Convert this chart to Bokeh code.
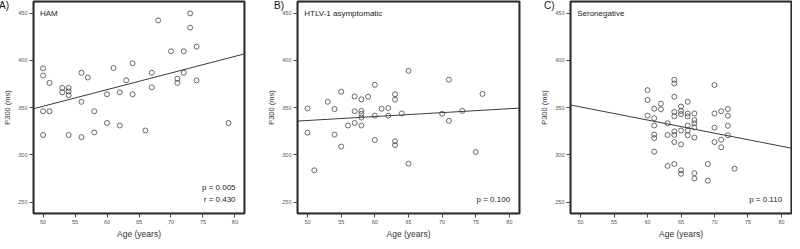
from bokeh.plotting import figure
from bokeh.layouts import row
from bokeh.models import FixedTicker, Range1d, BoxAnnotation, Div
from bokeh.core.properties import value
from bokeh.embed import file_html
from bokeh.resources import INLINE

FONT = "Liberation Sans"

x_ticks = [50, 55, 60, 65, 70, 75, 80]
y_ticks = [250, 300, 350, 400, 450]

# Panel A: HAM
ham_age = [50, 50, 50, 50, 51, 51, 53, 53, 54, 54, 54, 54, 56, 56, 56, 57, 58, 58,
           60, 60, 61, 62, 62, 63, 64, 64, 66, 67, 67, 68, 70, 71, 71, 72, 72, 73,
           73, 74, 74, 79]
ham_p300 = [391.6, 383.9, 346.2, 321.1, 376.2, 346.2, 370.9, 366.2, 370.9, 367.2,
            363.2, 321.1, 386.9, 356.2, 318.8, 381.9, 346.2, 323.8, 364.2, 333.8,
            391.9, 366.2, 331.1, 378.9, 396.9, 364.2, 325.8, 386.9, 371.5, 442.3,
            409.6, 380.6, 376.2, 409.6, 386.9, 449.7, 434.6, 414.6, 378.9, 333.8]
ham_fit_age = [48.5, 81.5]
ham_fit_p300 = [348.8, 406.9]
ham_stats = ["p = 0.005", "r = 0.430"]

# Panel B: HTLV-1 asymptomatic
asy_age = [50, 50, 51, 53, 54, 54, 55, 55, 56, 57, 57, 57, 58, 58, 58, 58, 58, 59,
           60, 60, 60, 61, 62, 62, 63, 63, 63, 63, 64, 65, 65, 70, 71, 71, 73, 75, 76]
asy_p300 = [349.2, 323.5, 283.7, 356.2, 348.5, 321.5, 366.9, 308.8, 331.1, 361.9,
            346.2, 333.8, 358.8, 346.5, 343.5, 339.5, 331.1, 361.5, 374.2, 341.5,
            315.8, 348.8, 349.5, 341.5, 364.2, 358.5, 314.4, 310.4, 343.8, 388.9,
            290.7, 343.5, 379.5, 336.1, 346.5, 303.1, 364.5]
asy_fit_age = [48.5, 81.5]
asy_fit_p300 = [335.8, 349.5]
asy_stats = ["p = 0.100"]

# Panel C: Seronegative
neg_age = [60, 60, 60, 61, 61, 61, 61, 61, 61, 62, 62, 63, 63, 63, 64, 64, 64, 64,
           64, 64, 64, 64, 64, 65, 65, 65, 65, 65, 65, 65, 66, 66, 66, 66, 66, 66,
           67, 67, 67, 67, 67, 67, 67, 69, 69, 70, 70, 70, 70, 71, 71, 71, 72, 72,
           72, 72, 73]
neg_p300 = [368.5, 358.2, 341.5, 348.8, 338.8, 331.1, 321.5, 317.8, 303.4, 354.2,
            348.2, 333.5, 321.1, 288.4, 379.5, 375.5, 361.5, 345.5, 340.8, 324.8,
            321.1, 313.6, 290.4, 351.2, 346.5, 343.2, 325.8, 311.1, 283.7, 280.0,
            356.2, 343.8, 340.8, 331.1, 325.8, 320.8, 343.8, 336.8, 333.5, 329.1,
            318.4, 280.7, 275.0, 290.4, 272.7, 373.9, 343.8, 328.8, 313.6, 316.1,
            308.1, 346.2, 348.5, 341.5, 330.8, 320.8, 285.4]
neg_fit_age = [48.5, 81.5]
neg_fit_p300 = [352.8, 307.1]
neg_stats = ["p = 0.110"]

panel_letters = ["A)", "B)", "C)"]

X_MIN, X_MAX = 48.5, 81.5
Y_MIN, Y_MAX = 238, 462.3
FIG_H = 241


def make_panel(width, left, right, age, p300, fit_age, fit_p300, name, stats):
    p = figure(width=width, height=FIG_H, x_range=Range1d(X_MIN, X_MAX),
               y_range=Range1d(Y_MIN, Y_MAX), output_backend="svg",
               toolbar_location=None, min_border_left=left, min_border_right=right,
               min_border_top=1, min_border_bottom=24)
    p.grid.visible = False
    p.outline_line_color = "#2b2b2b"
    p.outline_line_width = 2
    p.background_fill_color = "white"
    p.border_fill_color = "white"

    for ax in (p.xaxis[0], p.yaxis[0]):
        ax.axis_line_color = None
        ax.major_tick_line_color = "#444444"
        ax.major_tick_line_width = 1
        ax.major_tick_in = 0
        ax.major_tick_out = 4
        ax.minor_tick_line_color = None
        ax.major_label_text_font = FONT
        ax.major_label_text_font_size = "5.5px"
        ax.major_label_text_color = "#555555"
        ax.axis_label_text_font = FONT
        ax.axis_label_text_font_style = "normal"
        ax.axis_label_text_color = "#333333"
        ax.major_label_standoff = 2
    p.xaxis.ticker = FixedTicker(ticks=x_ticks)
    p.yaxis.ticker = FixedTicker(ticks=y_ticks)
    p.xaxis.axis_label = "Age (years)"
    p.yaxis.axis_label = "P300 (ms)"
    p.xaxis.axis_label_text_font_size = "8.5px"
    p.yaxis.axis_label_text_font_size = "7.5px"
    p.xaxis.axis_label_standoff = 2
    p.yaxis.axis_label_standoff = 3

    p.add_layout(BoxAnnotation(fill_color=None, fill_alpha=0,
                               line_color="#2b2b2b", line_width=2,
                               level="overlay"))

    p.line(fit_age, fit_p300, line_color="#3a3a3a", line_width=1)
    p.scatter(age, p300, size=5, marker="circle", fill_color=None,
              line_color="#444444", line_width=0.8)

    p.text(x=[49.5], y=[450], text=[name], text_font=value(FONT),
           text_font_size="8px", text_color="#222222", text_baseline="middle",
           text_align="left")
    ys = [265, 253][-len(stats):]
    p.text(x=[80.1] * len(stats), y=ys, text=stats, text_font=value(FONT),
           text_font_size="8px", text_color="#222222", text_baseline="middle",
           text_align="right")
    return p


def letter_div(text, left):
    return Div(text=text, width=14, height=14,
               styles={"position": "absolute", "left": f"{left}px", "top": "-5px",
                       "font-family": FONT, "font-size": "10px",
                       "color": "#111111", "line-height": "12px",
                       "z-index": "10"})


pA = make_panel(257, 26, 13, ham_age, ham_p300, ham_fit_age, ham_fit_p300,
                "HAM", ham_stats)
pB = make_panel(265, 40, 3, asy_age, asy_p300, asy_fit_age, asy_fit_p300,
                "HTLV-1 asymptomatic", asy_stats)
pC = make_panel(270, 48, 1, neg_age, neg_p300, neg_fit_age, neg_fit_p300,
                "Seronegative", neg_stats)

letter_lefts = [-6, 269, 539]
divs = [letter_div(t, l) for t, l in zip(panel_letters, letter_lefts)]

layout = row(pA, pB, pC, *divs)

open("out.html", "w").write(file_html(layout, INLINE))
